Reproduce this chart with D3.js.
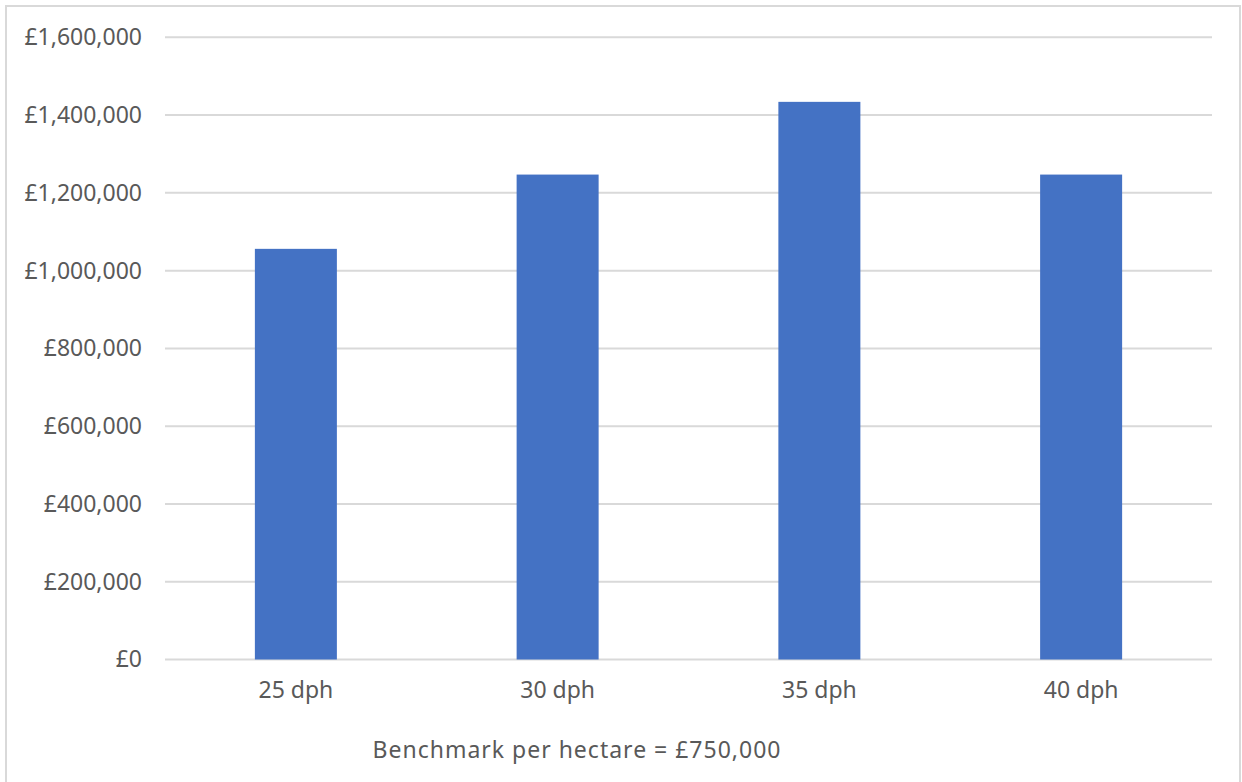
<!DOCTYPE html>
<html>
<head>
<meta charset="utf-8">
<script src="https://cdn.jsdelivr.net/npm/d3@7"></script>
<style>
  html, body { margin: 0; padding: 0; background: #fff; }
  svg { display: block; }
  text { font-family: "Noto Sans", "Open Sans", sans-serif; fill: #595959; }
</style>
</head>
<body>
<svg id="chart" width="1242" height="782"></svg>
<script>
const categories = ["25 dph", "30 dph", "35 dph", "40 dph"];
const values = [1056000, 1247000, 1434000, 1247000];
const yTicks = [0, 200000, 400000, 600000, 800000, 1000000, 1200000, 1400000, 1600000];
const footnote = "Benchmark per hectare = £750,000";

const svg = d3.select("#chart");
const plotLeft = 165, plotRight = 1212, plotTop = 37.3, plotBottom = 659.5;

// outer border
svg.append("rect")
  .attr("x", 6).attr("y", 6)
  .attr("width", 1234).attr("height", 790)
  .attr("fill", "#fff")
  .attr("stroke", "#d9d9d9").attr("stroke-width", 2);

const x = d3.scaleBand().domain(categories).range([plotLeft, plotRight])
  .paddingInner(0.6867).paddingOuter(0.6867 / 2);
const y = d3.scaleLinear().domain([0, 1600000]).range([plotBottom, plotTop]);

const fmt = v => "£" + d3.format(",")(v);

// gridlines
svg.append("g")
  .selectAll("line")
  .data(yTicks)
  .join("line")
  .attr("x1", plotLeft).attr("x2", plotRight)
  .attr("y1", d => y(d)).attr("y2", d => y(d))
  .attr("stroke", "#d9d9d9").attr("stroke-width", 2);

// y axis labels
const yAxis = d3.axisLeft(y).tickValues(yTicks).tickFormat(fmt).tickSize(0).tickPadding(23);
const gy = svg.append("g").attr("transform", `translate(${plotLeft},0)`).call(yAxis);
gy.select(".domain").remove();
gy.selectAll("text").style("font-size", "23px").attr("fill", "#595959")
  .style("font-family", '"Noto Sans", "Open Sans", sans-serif');

// bars
svg.append("g")
  .selectAll("rect")
  .data(values)
  .join("rect")
  .attr("x", (d, i) => x(categories[i]))
  .attr("y", d => y(d))
  .attr("width", x.bandwidth())
  .attr("height", d => y(0) - y(d))
  .attr("fill", "#4472C4");

// x axis labels
const xAxis = d3.axisBottom(x).tickSize(0).tickPadding(22);
const gx = svg.append("g").attr("transform", `translate(0,${plotBottom})`).call(xAxis);
gx.select(".domain").remove();
gx.selectAll("text").style("font-size", "23px").attr("fill", "#595959")
  .style("font-family", '"Noto Sans", "Open Sans", sans-serif');

// footnote
svg.append("text")
  .attr("x", 577).attr("y", 758)
  .attr("text-anchor", "middle")
  .style("font-size", "23px")
  .style("letter-spacing", "1px")
  .text(footnote);
</script>
</body>
</html>
